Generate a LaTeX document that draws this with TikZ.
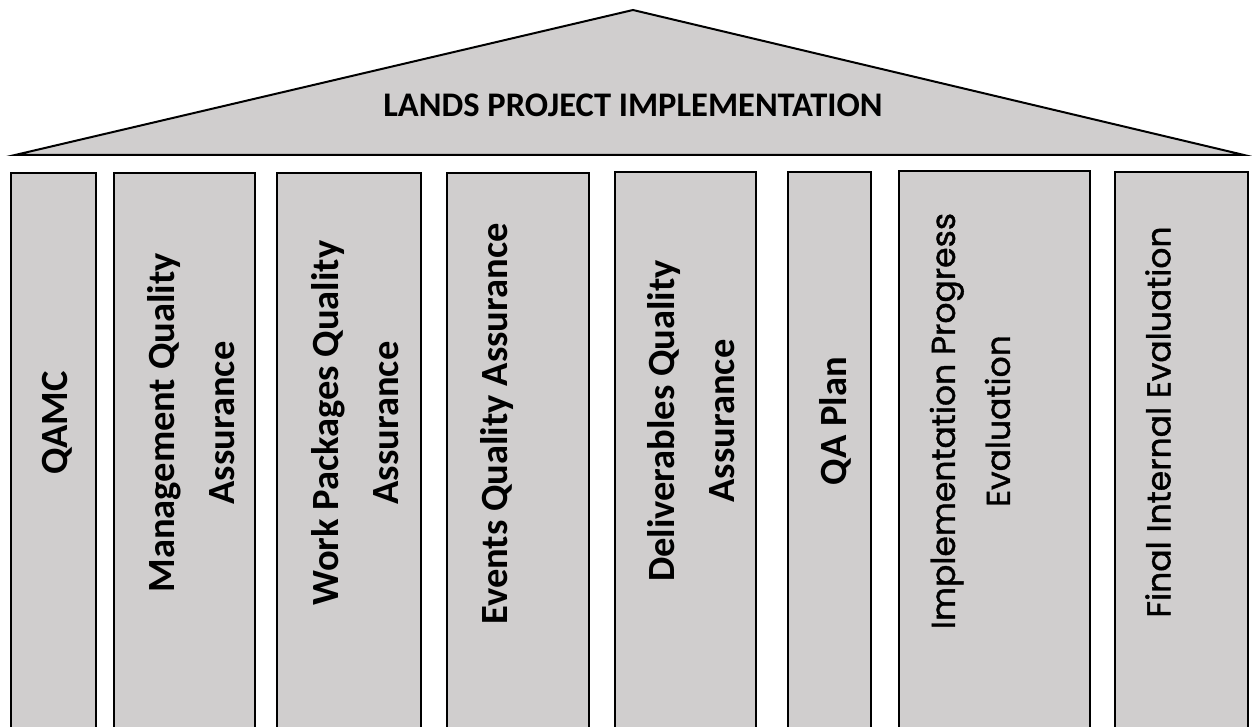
\documentclass[tikz,border=0pt]{standalone}
\usepackage{fontspec}
\setmainfont{Carlito}
\newfontfamily\geofont[FakeBold=1.2]{Poppins}
\definecolor{stonegray}{RGB}{208,206,206}

\begin{document}
\begin{tikzpicture}[x=1pt,y=-1pt]
        \tikzstyle{roof} = [draw=black, line width=2pt, fill=stonegray]
        \tikzstyle{pillar} = [rectangle, anchor=north west, minimum height=600, draw=black, line width=1.6pt, fill=stonegray]
        \tikzstyle{caption} = [rotate=90, align=center, inner sep=0pt, font=\fontsize{38.5}{60}\selectfont\bfseries]
        \tikzstyle{plaincaption} = [rotate=90, align=center, inner sep=0pt, font=\geofont\fontsize{33}{55}\selectfont]

        \useasboundingbox (0,0) rectangle (1252,727);
        \clip (0,0) rectangle (1252,727);

        % roof
        \draw [roof] (15,155) -- (633,10) -- (1244,155) -- cycle;
        \node (title) at (633,105) [font=\fontsize{34.5}{40}\selectfont\bfseries] {LANDS PROJECT IMPLEMENTATION};

        % pillars
        \node (qamc) [pillar, minimum width=85] at (10,172) {};
        \node (mgmt) [pillar, minimum width=141] at (113,172) {};
        \node (wp) [pillar, minimum width=144] at (276,172) {};
        \node (events) [pillar, minimum width=142] at (446,172) {};
        \node (deliv) [pillar, minimum width=141] at (614,171) {};
        \node (qaplan) [pillar, minimum width=83] at (787,171) {};
        \node (impl) [pillar, minimum width=191] at (898,170) {};
        \node (final) [pillar, minimum width=133] at (1114,171) {};

        % pillar captions
        \node (qamc text) [caption] at (57,423) {QAMC};
        \node (mgmt text) [caption] at (191,423) {Management Quality\\Assurance};
        \node (wp text) [caption] at (355,423) {Work Packages Quality\\Assurance};
        \node (events text) [caption] at (497,424) {Events Quality Assurance};
        \node (deliv text) [caption] at (691,421) {Deliverables Quality\\Assurance};
        \node (qaplan text) [caption] at (835,421) {QA Plan};
        \node (impl text) [plaincaption] at (970,421) {Implementation Progress\\Evaluation};
        \node (final text) [plaincaption] at (1158,422) {Final Internal Evaluation};
\end{tikzpicture}
\end{document}
